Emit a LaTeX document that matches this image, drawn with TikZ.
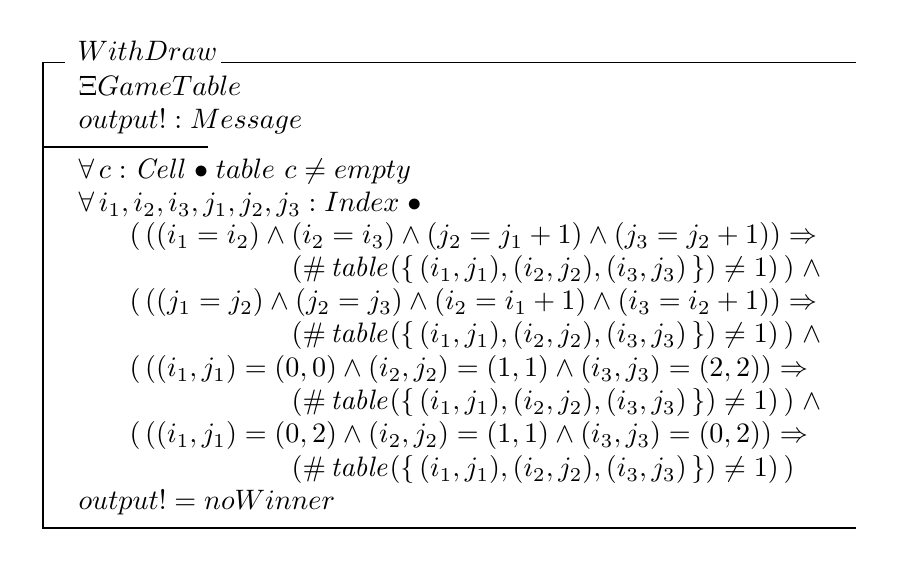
\documentclass[tikz,border=0pt]{standalone}
\usepackage{amssymb}
\usepackage{mathtools}
\usetikzlibrary{calc}

\tikzset{zrow/.style={anchor=base west,inner sep=0pt}}
\newcommand{\zspot}{\mathrel{\bullet}}
\newcommand{\zhash}{\#\,\mathit{table}(\{\,(i_1,j_1),(i_2,j_2),(i_3,j_3)\,\})\neq 1}

\begin{document}
\begin{tikzpicture}[x=0.3557pt,y=-0.3557pt,line width=0.45pt]
                \useasboundingbox(0,0)rectangle(906,582);
                \node[zrow](title)at(77,61){$WithDraw$};
                \node[zrow](xi)at(78,96){$\Xi GameTable$};
                \node[zrow](out)at(78,129){$output! : Message$};
                \node[zrow](allc)at(78,179){$\forall\, c : \mathit{Cell} \zspot table\ c \neq empty$};
                \node[zrow](alli)at(78,212){$\forall\, i_1, i_2, i_3, j_1, j_2, j_3 : Index \zspot$};
                \node[zrow](ra)at(129,244){$(\,((i_1 = i_2) \wedge (i_2 = i_3) \wedge (j_2 = j_1 + 1) \wedge (j_3 = j_2 + 1)) \Rightarrow$};
                \node[zrow](rb)at(291,277){$(\zhash)\,)\;\wedge$};
                \node[zrow](ca)at(129,310){$(\,((j_1 = j_2) \wedge (j_2 = j_3) \wedge (i_2 = i_1 + 1) \wedge (i_3 = i_2 + 1)) \Rightarrow$};
                \node[zrow](cb)at(291,343){$(\zhash)\,)\;\wedge$};
                \node[zrow](da)at(129,377){$(\,((i_1,j_1) = (0,0) \wedge (i_2,j_2) = (1,1) \wedge (i_3,j_3) = (2,2)) \Rightarrow$};
                \node[zrow](db)at(291,410){$(\zhash)\,)\;\wedge$};
                \node[zrow](aa)at(129,443){$(\,((i_1,j_1) = (0,2) \wedge (i_2,j_2) = (1,1) \wedge (i_3,j_3) = (0,2)) \Rightarrow$};
                \node[zrow](ab)at(291,477){$(\zhash)\,)$};
                \node[zrow](res)at(78,510){$output! = noWinner$};
                % schema frame
                \coordinate(TA)at($(title.base west)+(-12,1.7)$);
                \coordinate(TB)at($(title.base east)+(3,1.7)$);
                \coordinate(TL)at(43,62.7);
                \coordinate(TR)at(856,62.7);
                \coordinate(ML)at(43,147);
                \coordinate(MR)at(208,147);
                \coordinate(BL)at(43,528);
                \coordinate(BR)at(856,528);
                \draw(TA)--(TL)--(BL)--(BR);
                \draw(TB)--(TR);
                \draw(ML)--(MR);
            \end{tikzpicture}
\end{document}
